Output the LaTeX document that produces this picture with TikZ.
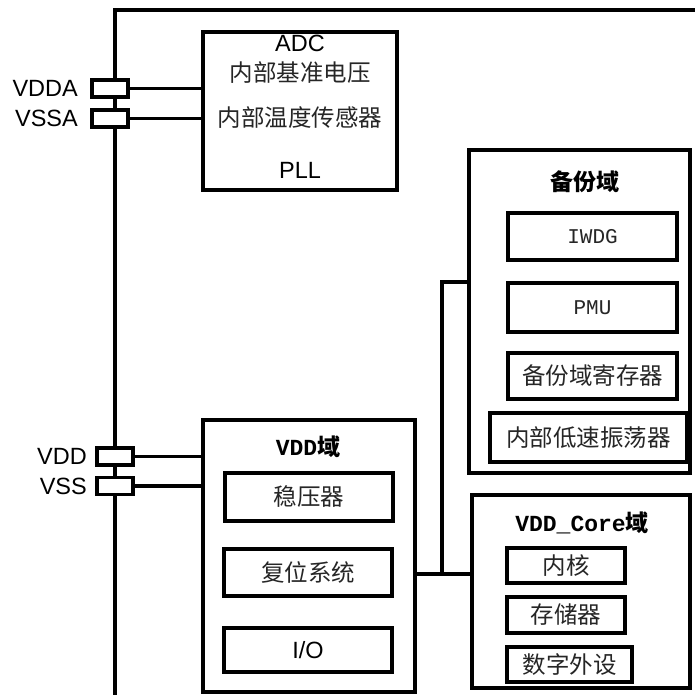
\documentclass[tikz,border=0pt]{standalone}
\usepackage{fontspec}
\setmainfont{Liberation Sans}
\newfontfamily\cjk{Noto Sans CJK SC}
\newfontfamily\mono{Liberation Mono}
\begin{document}
\begin{tikzpicture}[x=1pt,y=-1pt,
  box/.style={draw, line width=3.5pt, fill=white, inner sep=0pt},
  ibox/.style={draw, line width=4.2pt, fill=white, inner sep=0pt},
  pin/.style={draw, line width=3.5pt, fill=white, inner sep=0pt, minimum width=36pt, minimum height=17pt},
  wire/.style={line width=3.5pt},
  lat/.style={font=\fontsize{23.5}{28}\selectfont},
  cn/.style={font=\cjk\fontsize{23.5}{28}\selectfont, text=black!85},
  ttl/.style={font=\bfseries\fontsize{23}{28}\selectfont},
  mn/.style={font=\mono\fontsize{21}{26}\selectfont, text=black!85},
  plab/.style={anchor=east, inner sep=0pt, font=\fontsize{23.5}{28}\selectfont}]
\useasboundingbox (0,0) rectangle (694,695);
\fill[white] (0,0) rectangle (694,695);
% outer frame
\coordinate (fb) at (115,697);
\coordinate (ftl) at (115,10);
\coordinate (ftr) at (696,10);
\draw[wire] (fb) -- (ftl) -- (ftr);
% ADC box
\node[box, minimum width=194pt, minimum height=158pt] (adcbox) at (300,111) {};
\node[lat] (adc) at (300,43) {ADC};
\node[cn] (vref) at (300,73) {内部基准电压};
\node[cn] (temp) at (300,118) {内部温度传感器};
\node[lat] (pll) at (300,170) {PLL};
% pins
\node[pin] (vdda) at (110,88.5) {};
\node[pin] (vssa) at (110,118.5) {};
\node[pin] (vdd) at (115,456.5) {};
\node[pin] (vss) at (115,486) {};
\node[plab] (lvdda) at (78,88.5) {VDDA};
\node[plab] (lvssa) at (78,118.5) {VSSA};
\node[plab] (lvdd) at (87,456.5) {VDD};
\node[plab] (lvss) at (87,486) {VSS};
\draw[wire] (vdda.east) -- (vdda.east -| adcbox.west);
\draw[wire] (vssa.east) -- (vssa.east -| adcbox.west);
% VDD domain
\node[box, minimum width=212pt, minimum height=272pt] (vddbox) at (309,556) {};
\node[ttl] (vddt) at (308,447) {\mono VDD\cjk 域};
\node[ibox, minimum width=168pt, minimum height=48pt, cn] (reg) at (309,497) {稳压器};
\node[ibox, minimum width=168pt, minimum height=47pt, cn] (rst) at (308,572.5) {复位系统};
\node[ibox, minimum width=168pt, minimum height=44pt, lat] (io) at (308,650) {I/O};
\draw[wire] (vdd.east) -- (vdd.east -| vddbox.west);
\draw[wire] (vss.east) -- (vss.east -| vddbox.west);
% backup domain
\node[box, minimum width=221pt, minimum height=323pt] (bkbox) at (579.5,311.5) {};
\node[ttl] (bkt) at (585,182) {\cjk 备份域};
\node[ibox, minimum width=169pt, minimum height=47pt, mn] (iwdg) at (592.5,236.5) {IWDG};
\node[ibox, minimum width=169pt, minimum height=49pt, mn] (pmu) at (592.5,307.5) {PMU};
\node[ibox, minimum width=169pt, minimum height=46pt, cn] (bkreg) at (592.5,376) {备份域寄存器};
\node[ibox, minimum width=197pt, minimum height=49pt, cn] (lsi) at (588.5,437.5) {内部低速振荡器};
% core domain
\node[box, minimum width=218pt, minimum height=193pt] (corebox) at (581,591.5) {};
\node[ttl] (coret) at (582,523) {\mono VDD\_Core\cjk 域};
\node[ibox, minimum width=118pt, minimum height=35pt, cn] (core) at (566,565.5) {内核};
\node[ibox, minimum width=118pt, minimum height=36pt, cn] (mem) at (566,615) {存储器};
\node[ibox, minimum width=125pt, minimum height=35pt, cn] (dig) at (569.5,664.5) {数字外设};
% connectors
\coordinate (j) at (442,574);
\coordinate (k) at (442,282);
\draw[wire] (vddbox.east |- j) -- (j) -- (corebox.west |- j);
\draw[wire] (j) -- (k) -- (k -| bkbox.west);
\end{tikzpicture}
\end{document}
